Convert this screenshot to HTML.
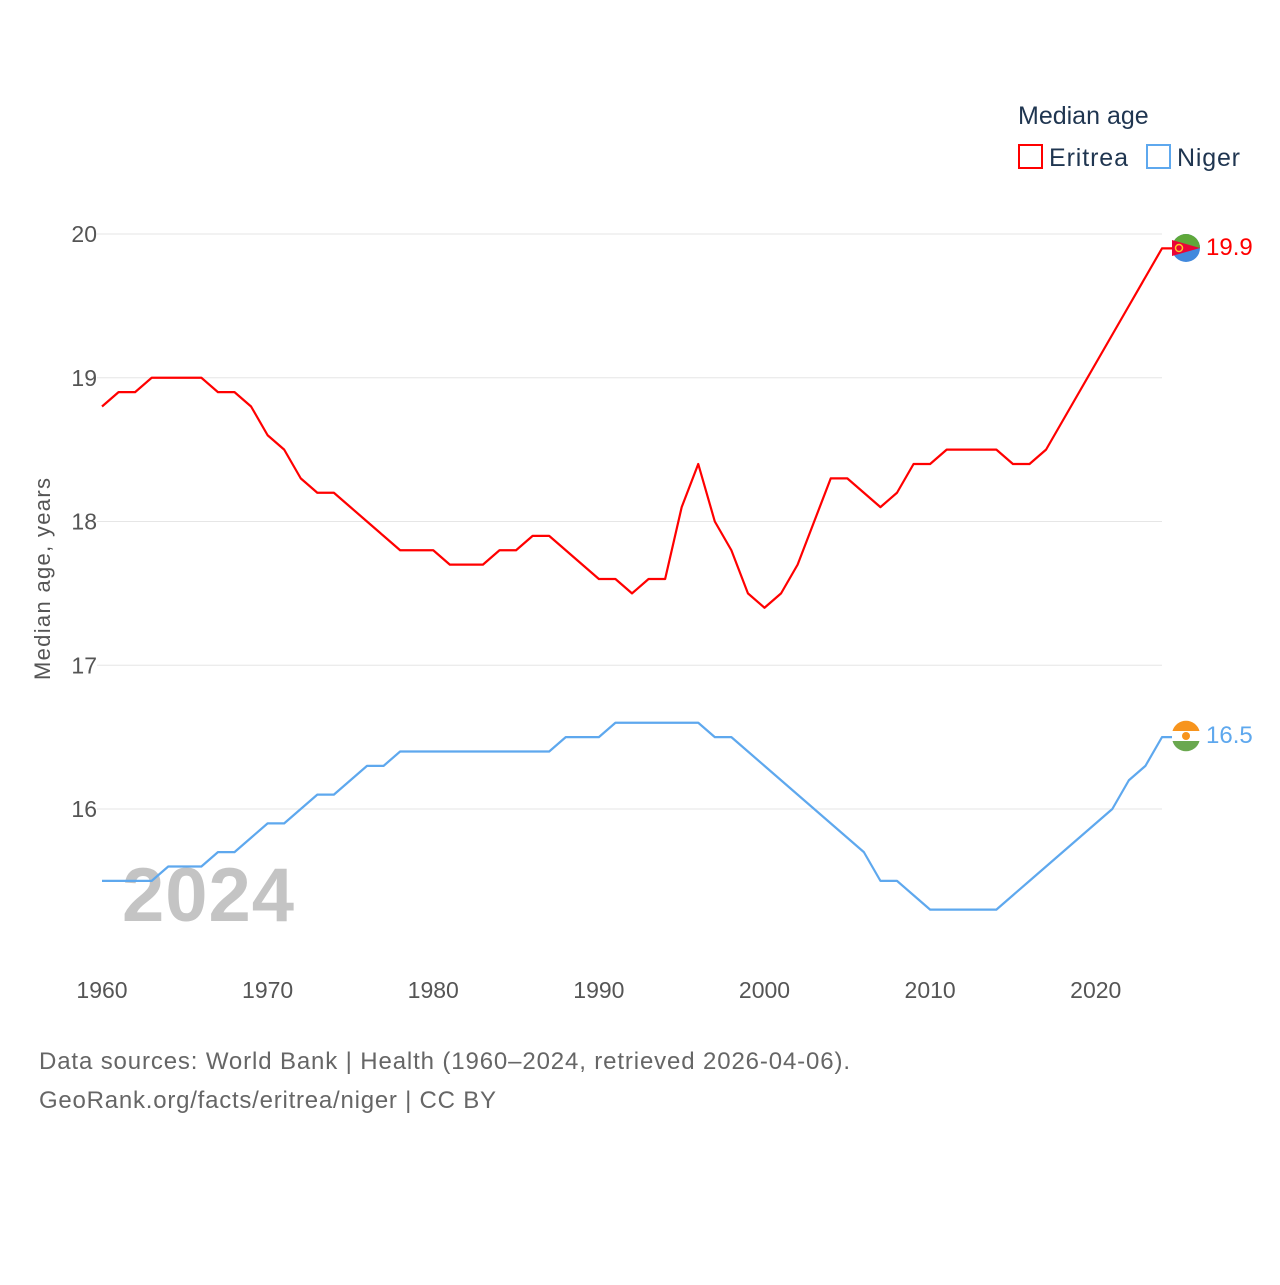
<!DOCTYPE html>
<html><head><meta charset="utf-8"><style>
body{margin:0;background:#fff;font-family:"Liberation Sans",sans-serif}
</style></head><body>
<svg width="1280" height="1280" viewBox="0 0 1280 1280" xmlns="http://www.w3.org/2000/svg">
<g id="grid"></g>
<g id="xticks"></g>
<text x="208" y="921" font-size="76" font-weight="bold" fill="#c4c4c4" text-anchor="middle" textLength="172">2024</text>
<g id="lines"></g>
<text transform="translate(50,579) rotate(-90)" font-size="22" fill="#555" text-anchor="middle" textLength="202">Median age, years</text>
<text x="1018" y="124" font-size="25" fill="#1f3550">Median age</text>
<g><rect x="1019" y="145" width="23" height="23" fill="none" stroke="#ff0000" stroke-width="2"/><text x="1049" y="166" font-size="25" fill="#1f3550" textLength="79">Eritrea</text></g>
<g><rect x="1147" y="145" width="23" height="23" fill="none" stroke="#5ea8ee" stroke-width="2"/><text x="1177" y="166" font-size="25" fill="#1f3550" textLength="63">Niger</text></g>
<g><circle cx="1186" cy="248" r="14" fill="#4189dd"/><path d="M1172,248 A14,14 0 0 1 1200,248 Z" fill="#5fa83a"/><polygon points="1172,240 1200,248 1172,256" fill="#ea0437"/><circle cx="1179" cy="248" r="3.5" fill="none" stroke="#ffc726" stroke-width="1.5"/></g>
<g><circle cx="1186" cy="736" r="14" fill="#fff"/><path d="M1172.5,731 A14,14 0 0 1 1199.5,731 Z" fill="#f7941d"/><path d="M1172.5,741 A14,14 0 0 0 1199.5,741 Z" fill="#6aa84f"/><circle cx="1186" cy="736" r="4" fill="#f7941d"/></g>
<text x="1206" y="255" font-size="24" fill="#ff0000">19.9</text>
<text x="1206" y="743" font-size="24" fill="#5ea8ee">16.5</text>
<text x="39" y="1069" font-size="24" fill="#666" textLength="811">Data sources: World Bank | Health (1960–2024, retrieved 2026-04-06).</text>
<text x="39" y="1108" font-size="24" fill="#666" textLength="457">GeoRank.org/facts/eritrea/niger | CC BY</text>
</svg>
<script>
const years=[];for(let y=1960;y<=2024;y++)years.push(y);
const eritrea=[18.8,18.9,18.9,19.0,19.0,19.0,19.0,18.9,18.9,18.8,18.6,18.5,18.3,18.2,18.2,18.1,18.0,17.9,17.8,17.8,17.8,17.7,17.7,17.7,17.8,17.8,17.9,17.9,17.8,17.7,17.6,17.6,17.5,17.6,17.6,18.1,18.4,18.0,17.8,17.5,17.4,17.5,17.7,18.0,18.3,18.3,18.2,18.1,18.2,18.4,18.4,18.5,18.5,18.5,18.5,18.4,18.4,18.5,18.7,18.9,19.1,19.3,19.5,19.7,19.9];
const niger=[15.5,15.5,15.5,15.5,15.6,15.6,15.6,15.7,15.7,15.8,15.9,15.9,16.0,16.1,16.1,16.2,16.3,16.3,16.4,16.4,16.4,16.4,16.4,16.4,16.4,16.4,16.4,16.4,16.5,16.5,16.5,16.6,16.6,16.6,16.6,16.6,16.6,16.5,16.5,16.4,16.3,16.2,16.1,16.0,15.9,15.8,15.7,15.5,15.5,15.4,15.3,15.3,15.3,15.3,15.3,15.4,15.5,15.6,15.7,15.8,15.9,16.0,16.2,16.3,16.5];
const yTicks=[16,17,18,19,20];
const xTicks=[1960,1970,1980,1990,2000,2010,2020];
const X=y=>102+(y-1960)*(1162-102)/64;
const Y=v=>809-(v-16)*143.75;
const NS="http://www.w3.org/2000/svg";
function mk(t,a,p){const e=document.createElementNS(NS,t);for(const k in a)e.setAttribute(k,a[k]);p.appendChild(e);return e;}
const grid=document.getElementById('grid');
yTicks.forEach(v=>{
 const l=mk('line',{x1:97,x2:1162,y1:Y(v),y2:Y(v),stroke:'#e6e6e6','stroke-width':1},grid);
 
 
 const t=mk('text',{x:97,y:Y(v)+8,'font-size':23,fill:'#555','text-anchor':'end'},grid);
 t.textContent=v;
 
 
});
const xt=document.getElementById('xticks');
xTicks.forEach(v=>{
 const t=mk('text',{x:X(v),y:998,'font-size':23,fill:'#555','text-anchor':'middle'},xt);
 t.textContent=v;
 
 
});
const lg=document.getElementById('lines');
[[eritrea,'#ff0000','eritrea-line'],[niger,'#5ea8ee','niger-line']].forEach(([d,c,n])=>{
 let pts=d.map((v,i)=>X(years[i])+','+Y(v));
 pts.push((X(2024)+10)+','+Y(d[d.length-1]));
 const p=mk('polyline',{points:pts.join(' '),fill:'none',stroke:c,'stroke-width':2.2,'stroke-linejoin':'round'},lg);
 
 
});
</script>
</body></html>
